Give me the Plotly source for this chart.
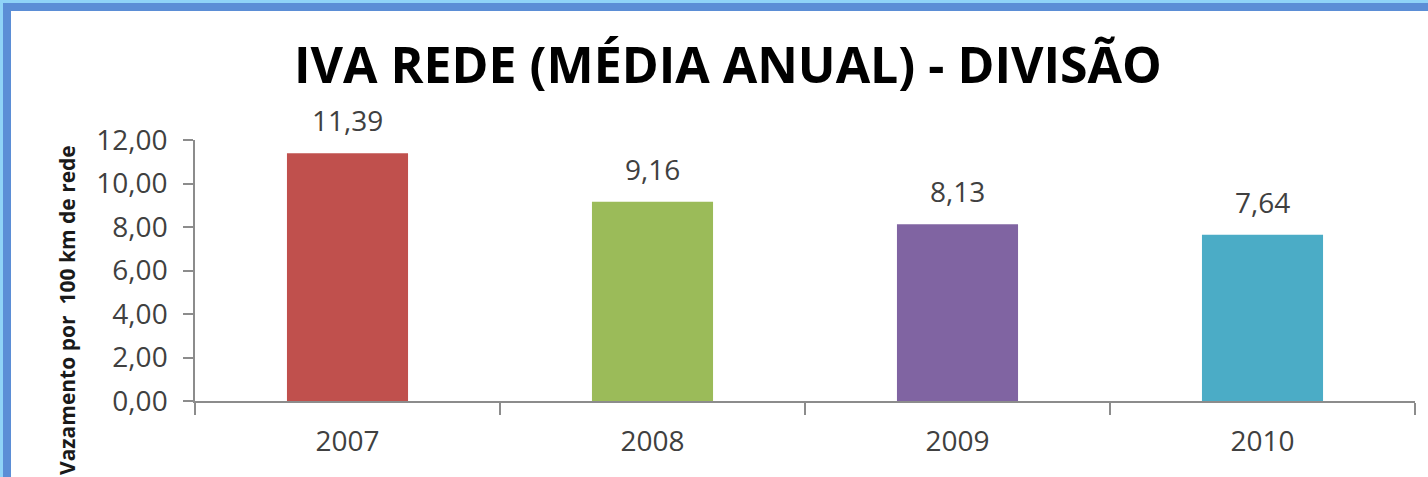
import plotly.graph_objects as go

categories = ["2007", "2008", "2009", "2010"]
values = [11.39, 9.16, 8.13, 7.64]
bar_colors = ["#C0504D", "#9BBB59", "#8064A2", "#4BACC6"]
y_ticks = [0, 2, 4, 6, 8, 10, 12]
title_text = "IVA REDE (MÉDIA ANUAL) - DIVISÃO"
y_title = "Vazamento por  100 km de rede"

W, H = 1428, 477
L, R, T, B = 195, 13, 140, 76
PW, PH = W - L - R, H - T - B


def px(x):
    return (x - L) / PW


def py(y):
    return (H - B - y) / PH


def fmt(v):
    return f"{v:.2f}".replace(".", ",")


fig = go.Figure()
fig.add_trace(go.Bar(
    x=categories, y=values,
    marker=dict(color=bar_colors, line=dict(width=0)),
    hoverinfo="skip",
))

for i, v in enumerate(values):
    fig.add_annotation(
        x=i, y=v, xref="x", yref="y", text=fmt(v), showarrow=False,
        yanchor="bottom", yshift=12,
        font=dict(family="Open Sans", size=28, color="#404040"),
    )

fig.add_annotation(
    x=px(728), y=py(64), xref="paper", yref="paper", text=f"<b>{title_text}</b>",
    showarrow=False, xanchor="center", yanchor="middle",
    font=dict(family="Open Sans", size=50, color="#000000"),
)

fig.add_annotation(
    x=px(67), y=py(310), xref="paper", yref="paper", text=f"<b>{y_title}</b>",
    showarrow=False, xanchor="center", yanchor="middle", textangle=-90,
    font=dict(family="Open Sans", size=21, color="#1a1a1a"),
)

# blue frame
shapes = [
    dict(type="rect", xref="paper", yref="paper", x0=px(0), x1=px(W), y0=py(0), y1=py(3),
         fillcolor="#8fd3f7", line=dict(width=0), layer="above"),
    dict(type="rect", xref="paper", yref="paper", x0=px(0), x1=px(3), y0=py(0), y1=py(H),
         fillcolor="#8fd3f7", line=dict(width=0), layer="above"),
    dict(type="rect", xref="paper", yref="paper", x0=px(3), x1=px(W), y0=py(3), y1=py(11),
         fillcolor="#5b8ed6", line=dict(width=0), layer="above"),
    dict(type="rect", xref="paper", yref="paper", x0=px(3), x1=px(11), y0=py(3), y1=py(H),
         fillcolor="#5b8ed6", line=dict(width=0), layer="above"),
]

fig.update_layout(
    width=W, height=H,
    margin=dict(l=L, r=R, t=T, b=B, pad=0, autoexpand=False),
    paper_bgcolor="white", plot_bgcolor="white",
    showlegend=False, bargap=0.603,
    separators=",.",
    shapes=shapes,
    xaxis=dict(
        type="category", showgrid=False, zeroline=False, automargin=False,
        showline=True, linecolor="#8c8c8c", linewidth=1.5,
        ticks="outside", tickson="boundaries", ticklen=12, tickcolor="#8c8c8c", tickwidth=1.5,
        tickfont=dict(family="Open Sans", size=28, color="#404040"),
        tickangle=0, ticklabelstandoff=15,
    ),
    yaxis=dict(
        range=[0, 12], tickvals=y_ticks, tickformat=".2f", automargin=False,
        showgrid=False, zeroline=False,
        showline=True, linecolor="#8c8c8c", linewidth=1.5,
        ticks="outside", ticklen=10, tickcolor="#8c8c8c", tickwidth=1.5,
        tickfont=dict(family="Open Sans", size=28, color="#404040"),
        ticklabelstandoff=10,
    ),
)

fig.write_html(
    "out.html",
    config={"displayModeBar": False},
    post_script="document.body.style.margin='0';document.body.style.overflow='hidden';",
)
